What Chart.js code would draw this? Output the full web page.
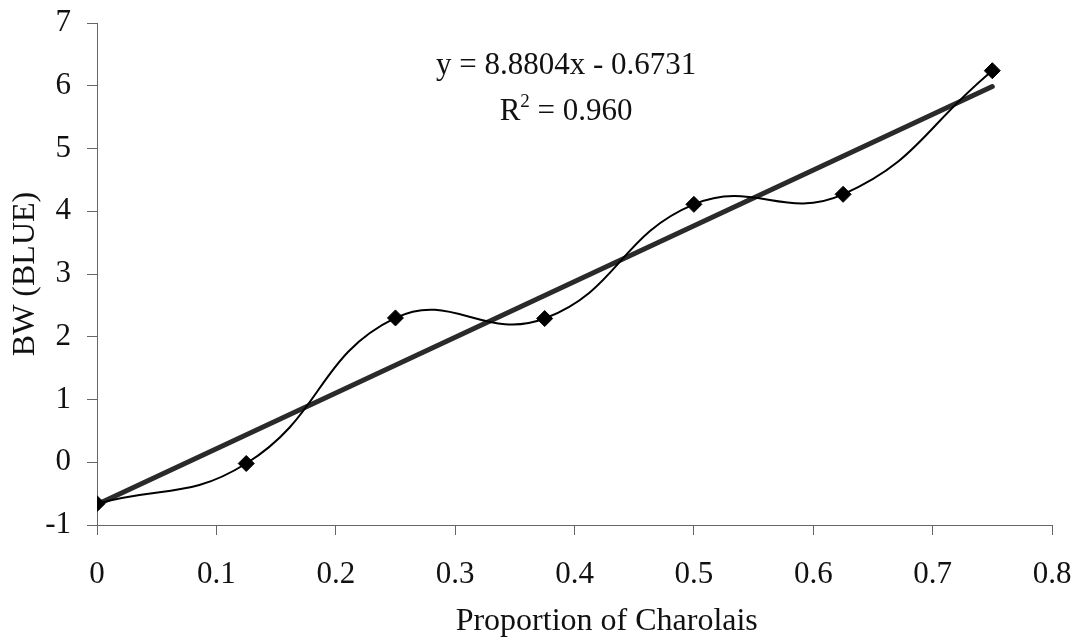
<!DOCTYPE html>
<html>
<head>
<meta charset="utf-8">
<script src="https://cdn.jsdelivr.net/npm/chart.js@4.4.1/dist/chart.umd.min.js"></script>
<style>
  html, body { margin: 0; padding: 0; background: #fff; }
  #wrap { width: 1083px; height: 639px; position: relative; }
</style>
</head>
<body>
<div id="wrap"><canvas id="c" width="1083" height="639"></canvas></div>
<script>
// ---- data ----
const proportions = [0, 0.125, 0.25, 0.375, 0.5, 0.625, 0.75];
const bwValues = [-0.66, -0.02, 2.30, 2.29, 4.11, 4.27, 6.24];
const trendSlope = 8.8804;
const trendIntercept = -0.6731;
const trendX = [0, 0.75];
const xTickLabels = ['0', '0.1', '0.2', '0.3', '0.4', '0.5', '0.6', '0.7', '0.8'];
const yTickLabels = ['-1', '0', '1', '2', '3', '4', '5', '6', '7'];
const equationText = 'y = 8.8804x - 0.6731';
const r2Value = '0.960';
const xTitle = 'Proportion of Charolais';
const yTitle = 'BW (BLUE)';

const FONT = '"Liberation Serif", "Times New Roman", serif';
const INK = '#111';
const AXIS = '#666';

const dataPts = proportions.map((x, i) => ({ x: x, y: bwValues[i] }));
const trendPts = trendX.map(x => ({ x: x, y: trendSlope * x + trendIntercept }));

const textPlugin = {
  id: 'textExtras',
  afterDatasetsDraw(chart) {
    const ctx = chart.ctx;
    const xs = chart.scales.x, ys = chart.scales.y;
    const cx = xs.getPixelForValue(0.393);
    ctx.save();
    ctx.fillStyle = INK;
    ctx.textBaseline = 'alphabetic';
    ctx.textAlign = 'center';
    ctx.font = '31px ' + FONT;
    ctx.fillText(equationText, cx, ys.getPixelForValue(6.18));
    // R^2 line
    const y2 = ys.getPixelForValue(5.46);
    ctx.font = '31px ' + FONT;
    const rW = ctx.measureText('R').width;
    ctx.font = '19px ' + FONT;
    const sW = ctx.measureText('2').width;
    ctx.font = '31px ' + FONT;
    const restTxt = ' = ' + r2Value;
    const restW = ctx.measureText(restTxt).width;
    const total = rW + sW + restW;
    let left = cx - total / 2;
    ctx.textAlign = 'left';
    ctx.fillText('R', left, y2);
    ctx.font = '19px ' + FONT;
    ctx.fillText('2', left + rW, y2 - 13);
    ctx.font = '31px ' + FONT;
    ctx.fillText(restTxt, left + rW + sW, y2);
    // x-axis title (offset to the right of the plot centre, as in the original)
    ctx.textAlign = 'center';
    ctx.font = '32px ' + FONT;
    ctx.fillText(xTitle, xs.getPixelForValue(0.427), chart.height - 9);
    ctx.restore();
  }
};

new Chart(document.getElementById('c'), {
  type: 'scatter',
  data: {
    datasets: [
      {
        label: 'BW',
        data: dataPts,
        showLine: true,
        borderColor: '#000',
        borderWidth: 2,
        tension: 0.45,
        pointStyle: 'rectRot',
        pointRadius: 8,
        pointBackgroundColor: '#000',
        pointBorderColor: '#000',
        pointBorderWidth: 1,
        order: 1
      },
      {
        label: 'Trend',
        data: trendPts,
        showLine: true,
        borderColor: '#2a2a2a',
        borderWidth: 5,
        borderCapStyle: 'round',
        pointRadius: 0,
        tension: 0,
        order: 2
      }
    ]
  },
  options: {
    responsive: false,
    animation: false,
    layout: { padding: { top: 23, right: 31, left: 0, bottom: 0 } },
    plugins: { legend: { display: false }, tooltip: { enabled: false } },
    scales: {
      x: {
        type: 'linear',
        min: 0, max: 0.8,
        afterFit(s) { s.height = 114; s.paddingLeft = 0; s.paddingRight = 0; },
        ticks: {
          stepSize: 0.1,
          color: INK,
          font: { family: FONT, size: 31 },
          padding: 21,
          callback: (v, i) => xTickLabels[i]
        },
        grid: { drawOnChartArea: false, drawTicks: true, tickLength: 10, color: AXIS, lineWidth: 1 },
        border: { display: true, color: AXIS, width: 1 },
        title: { display: false, text: xTitle }
      },
      y: {
        type: 'linear',
        min: -1, max: 7,
        afterFit(s) { s.width = 97; s.paddingTop = 0; s.paddingBottom = 0; },
        ticks: {
          stepSize: 1,
          color: INK,
          font: { family: FONT, size: 31 },
          padding: 16,
          callback: (v, i) => yTickLabels[i]
        },
        grid: { drawOnChartArea: false, drawTicks: true, tickLength: 10, color: AXIS, lineWidth: 1 },
        border: { display: true, color: AXIS, width: 1 },
        title: { display: true, text: yTitle, color: INK, font: { family: FONT, size: 32 }, padding: { top: 6, bottom: 0 } }
      }
    }
  },
  plugins: [textPlugin]
});
</script>
</body>
</html>
